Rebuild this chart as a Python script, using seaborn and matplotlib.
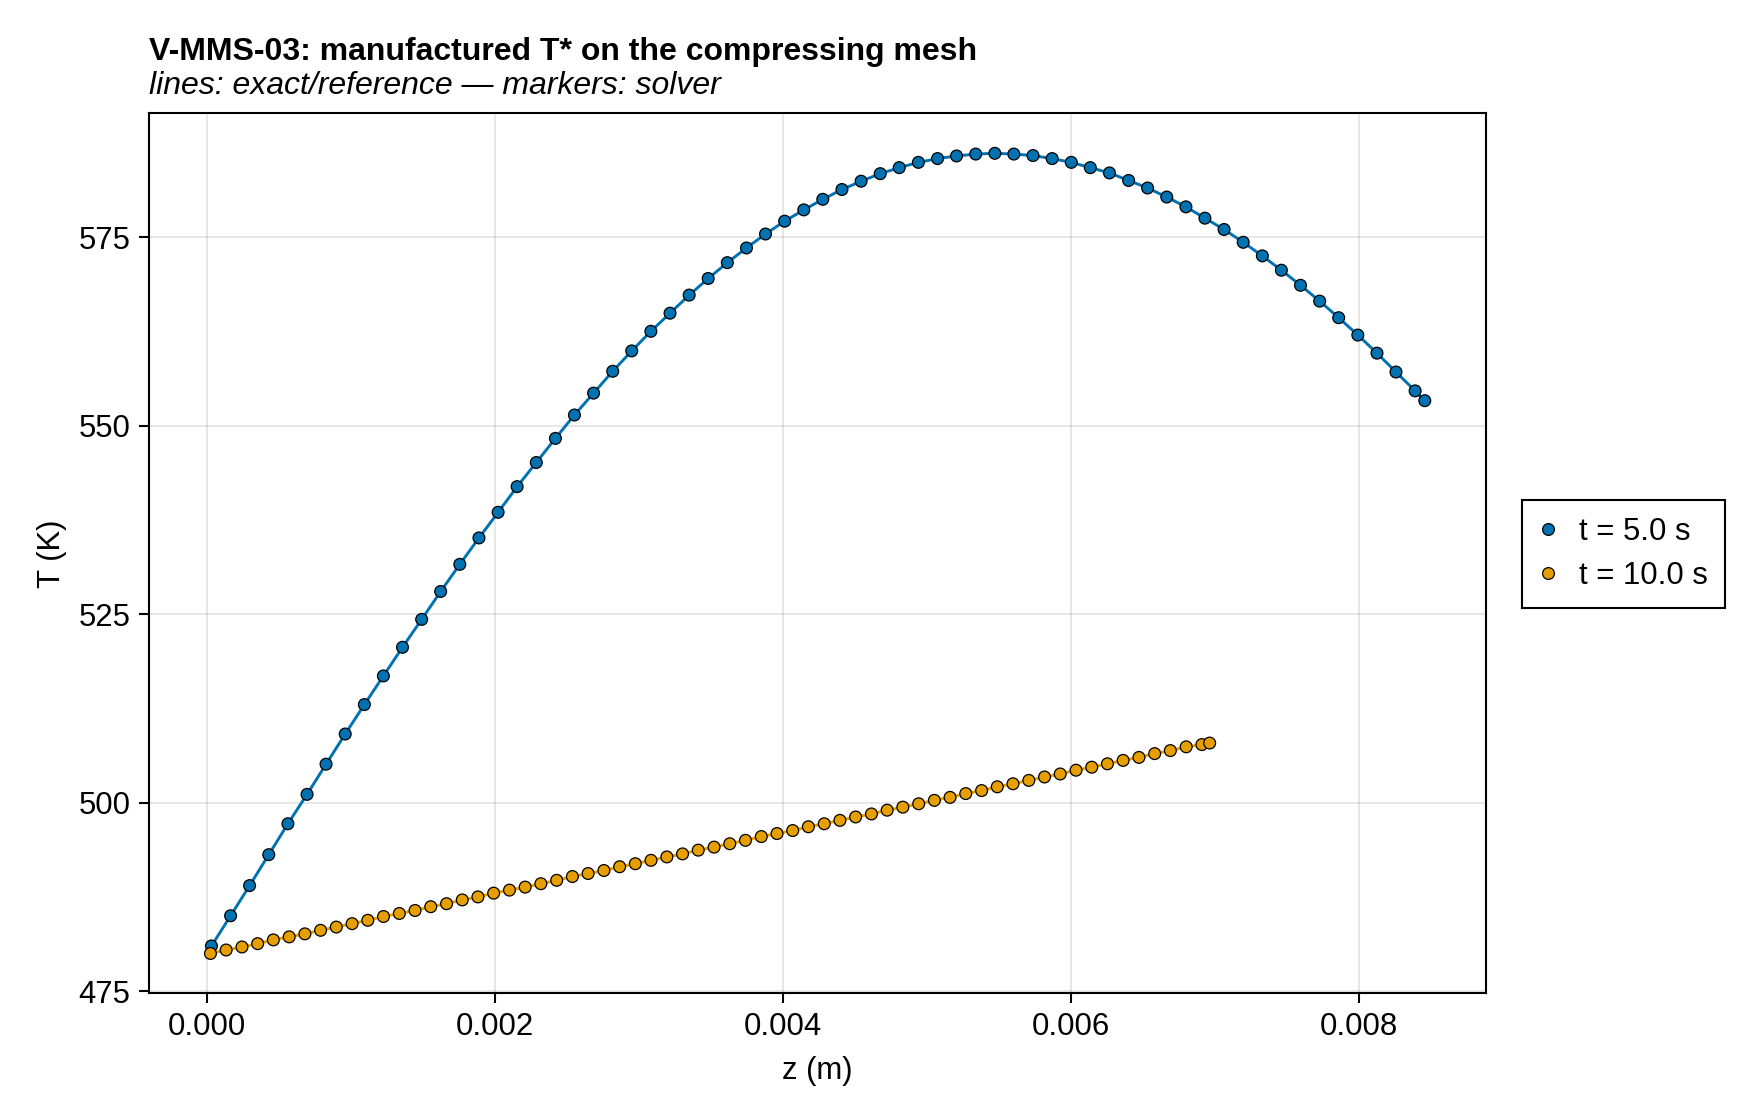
import numpy as np
import pandas as pd
import matplotlib
matplotlib.use("Agg")
import matplotlib.pyplot as plt
import seaborn as sns

# ---- data ----
z_t5 = [0.000030, 0.000163, 0.000295, 0.000428, 0.000561, 0.000694, 0.000826, 0.000959,
        0.001092, 0.001224, 0.001357, 0.001490, 0.001622, 0.001755, 0.001888, 0.002021,
        0.002153, 0.002286, 0.002419, 0.002551, 0.002684, 0.002817, 0.002949, 0.003082,
        0.003215, 0.003348, 0.003480, 0.003613, 0.003746, 0.003878, 0.004011, 0.004144,
        0.004276, 0.004409, 0.004542, 0.004675, 0.004807, 0.004940, 0.005073, 0.005205,
        0.005338, 0.005471, 0.005603, 0.005736, 0.005869, 0.006002, 0.006134, 0.006267,
        0.006400, 0.006532, 0.006665, 0.006798, 0.006930, 0.007063, 0.007196, 0.007329,
        0.007461, 0.007594, 0.007727, 0.007859, 0.007992, 0.008125, 0.008257, 0.008390,
        0.008457]
T_t5 = [481.0, 485.0, 489.0, 493.1, 497.2, 501.1, 505.1, 509.1,
        513.0, 516.8, 520.6, 524.3, 528.0, 531.6, 535.1, 538.5,
        541.9, 545.1, 548.3, 551.4, 554.3, 557.2, 559.9, 562.5,
        564.9, 567.3, 569.5, 571.6, 573.55, 575.4, 577.1, 578.6,
        580.0, 581.3, 582.4, 583.4, 584.2, 584.9, 585.4, 585.75,
        586.0, 586.1, 586.0, 585.8, 585.4, 584.9, 584.2, 583.5,
        582.5, 581.5, 580.3, 579.0, 577.5, 576.0, 574.3, 572.5,
        570.6, 568.6, 566.5, 564.3, 562.0, 559.6, 557.1, 554.6,
        553.3]

z_t10 = [0.000023, 0.000132, 0.000242, 0.000351, 0.000460, 0.000570, 0.000679, 0.000788,
         0.000897, 0.001007, 0.001116, 0.001225, 0.001335, 0.001444, 0.001553, 0.001663,
         0.001772, 0.001881, 0.001990, 0.002100, 0.002209, 0.002318, 0.002428, 0.002537,
         0.002646, 0.002756, 0.002865, 0.002974, 0.003083, 0.003193, 0.003302, 0.003411,
         0.003521, 0.003630, 0.003739, 0.003849, 0.003958, 0.004067, 0.004176, 0.004286,
         0.004395, 0.004504, 0.004614, 0.004723, 0.004832, 0.004942, 0.005051, 0.005160,
         0.005269, 0.005379, 0.005488, 0.005597, 0.005707, 0.005816, 0.005925, 0.006035,
         0.006144, 0.006253, 0.006362, 0.006472, 0.006581, 0.006690, 0.006800, 0.006909,
         0.006963]
T_t10 = [480.0, 480.46, 480.86, 481.3, 481.8, 482.2, 482.6, 483.07,
         483.5, 483.95, 484.4, 484.9, 485.3, 485.7, 486.2, 486.6,
         487.1, 487.5, 488.0, 488.4, 488.8, 489.25, 489.7, 490.2,
         490.6, 491.0, 491.5, 491.9, 492.35, 492.8, 493.2, 493.7,
         494.1, 494.55, 495.0, 495.5, 495.9, 496.3, 496.8, 497.2,
         497.65, 498.1, 498.5, 499.0, 499.4, 499.85, 500.3, 500.7,
         501.2, 501.6, 502.1, 502.5, 502.95, 503.4, 503.8, 504.3,
         504.7, 505.15, 505.6, 506.0, 506.5, 506.9, 507.4, 507.7,
         507.9]

labels = ["t = 5.0 s", "t = 10.0 s"]
colors = {"t = 5.0 s": "#0072B2", "t = 10.0 s": "#E69F00"}
y_ticks = [475, 500, 525, 550, 575]
x_ticks = [0.000, 0.002, 0.004, 0.006, 0.008]

df = pd.concat([
    pd.DataFrame({"z": z_t5, "T": T_t5, "series": labels[0]}),
    pd.DataFrame({"z": z_t10, "T": T_t10, "series": labels[1]}),
], ignore_index=True)

# ---- style ----
sns.set_style("ticks")
plt.rcParams['font.family'] = ['Liberation Sans', 'DejaVu Sans']
plt.rcParams['font.size'] = 11.2
plt.rcParams['text.color'] = 'black'
plt.rcParams['axes.labelcolor'] = 'black'
plt.rcParams['xtick.color'] = 'black'
plt.rcParams['ytick.color'] = 'black'
plt.rcParams['axes.edgecolor'] = 'black'
plt.rcParams['axes.linewidth'] = 0.75
plt.rcParams['xtick.major.width'] = 0.75
plt.rcParams['ytick.major.width'] = 0.75
plt.rcParams['xtick.major.size'] = 3.6
plt.rcParams['ytick.major.size'] = 3.6

fig = plt.figure(figsize=(8.8, 5.6), dpi=200)
ax = fig.add_axes([0.0848, 0.1130, 0.8443 - 0.0848, 0.8988 - 0.1130])

# exact / reference lines
sns.lineplot(data=df, x="z", y="T", hue="series", hue_order=labels, palette=colors,
             linewidth=1.05, legend=False, sort=False, estimator=None, ax=ax, zorder=2)

# solver markers
sns.scatterplot(data=df, x="z", y="T", hue="series", hue_order=labels, palette=colors,
                s=18, edgecolor="black", linewidth=0.45, ax=ax, zorder=3)

ax.set_xlim(-0.000402, 0.008882)
ax.set_ylim(474.7, 591.4)
ax.set_xticks(x_ticks)
ax.set_xticklabels([f"{v:.3f}" for v in x_ticks])
ax.set_yticks(y_ticks)
ax.grid(True, color="black", alpha=0.12, linewidth=0.55)
ax.set_axisbelow(True)
ax.tick_params(axis="both", labelsize=11.2, pad=3.2, colors="black")

ax.set_xlabel("z (m)", fontsize=11.2, labelpad=5)
ax.set_ylabel("T (K)", fontsize=11.2, labelpad=4)

fig.text(0.0848, 0.9464, "V-MMS-03: manufactured T* on the compressing mesh",
         fontsize=11.5, fontweight="bold", ha="left", va="baseline", color="black")
fig.text(0.0848, 0.9161, "lines: exact/reference \u2014 markers: solver",
         fontsize=11.5, fontstyle="italic", ha="left", va="baseline", color="black")

leg = ax.legend(loc="center left", bbox_to_anchor=(0.8646, 0.5055),
                bbox_transform=fig.transFigure, frameon=True, fancybox=False,
                fontsize=11.2, handlelength=0.6, handletextpad=0.7, borderpad=0.55,
                labelspacing=0.45, borderaxespad=0.0, title=None)
leg.get_frame().set_edgecolor("black")
leg.get_frame().set_linewidth(0.75)
leg.get_frame().set_alpha(1.0)

fig.savefig("out.png", dpi=200)
